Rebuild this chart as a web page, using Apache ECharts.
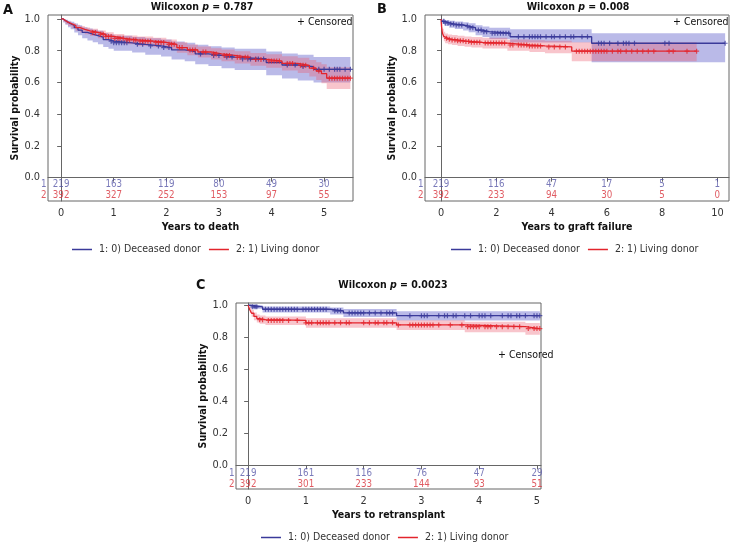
<!DOCTYPE html>
<html><head><meta charset="utf-8">
<script src="https://cdn.jsdelivr.net/npm/echarts@6/dist/echarts.min.js"></script>
<style>html,body{margin:0;padding:0;background:#fff}#c{width:732px;height:545px}</style>
</head><body><div id="c"></div>
<script>
// ---- pick a narrow installed font (reference uses a condensed face) ----
function fontAvailable(name){
  const c = document.createElement('canvas').getContext('2d');
  const s = 'Wilcoxon Deceased donor 0123456789';
  c.font = '40px monospace'; const w0 = c.measureText(s).width;
  c.font = "40px '"+name+"', monospace"; const w1 = c.measureText(s).width;
  c.font = '40px serif'; const w2 = c.measureText(s).width;
  c.font = "40px '"+name+"', serif"; const w3 = c.measureText(s).width;
  return w0 !== w1 || w2 !== w3;
}
const CANDIDATES = ['Liberation Sans Narrow','DejaVu Sans Condensed','Roboto Condensed','Open Sans Condensed','Noto Sans Condensed','Roboto'];
let PICK = 'Roboto';
for (const f of CANDIDATES){ if (fontAvailable(f)) { PICK = f; break; } }
const FONT = "'"+PICK+"', 'Liberation Sans', sans-serif";
const MCTX = document.createElement('canvas').getContext('2d');
function textW(str, size, bold){ MCTX.font = (bold?'bold ':'') + size + 'px ' + FONT; return MCTX.measureText(str).width; }
const K = Math.min(1.05, Math.max(0.84, 85 / textW('1: 0) Deceased donor', 12)));
const fs = v => Math.round(v * K * 10) / 10;

const BLUE = '#3a3a9a', RED = '#e3242c';
const BLUE_TXT = '#5858a8', RED_TXT = '#d8323b';
const BLUE_BAND = 'rgba(102,102,204,0.45)', RED_BAND = 'rgba(235,90,110,0.35)';
const NAME1 = '1: 0) Deceased donor', NAME2 = '2: 1) Living donor';

// ---------- Panel A: Years to death ----------
const A_blue_t  = [0,0.04,0.08,0.13,0.18,0.25,0.32,0.4,0.5,0.6,0.7,0.8,0.9,1.0,1.35,1.6,1.9,2.1,2.35,2.55,2.8,3.05,3.3,3.9,4.2,4.5,4.8,5.5];
const A_blue_s  = [1.0,0.99,0.98,0.97,0.96,0.945,0.93,0.915,0.905,0.895,0.885,0.87,0.86,0.85,0.84,0.83,0.82,0.805,0.795,0.78,0.77,0.76,0.748,0.725,0.71,0.70,0.683,0.683];
const A_blue_lo = [1.0,0.977,0.963,0.948,0.935,0.915,0.897,0.878,0.865,0.853,0.84,0.823,0.812,0.8,0.788,0.775,0.763,0.745,0.733,0.715,0.703,0.69,0.678,0.645,0.625,0.613,0.6,0.6];
const A_blue_hi = [1.0,1.0,0.995,0.988,0.982,0.972,0.96,0.948,0.94,0.932,0.925,0.912,0.903,0.895,0.887,0.878,0.87,0.858,0.85,0.837,0.828,0.82,0.812,0.795,0.783,0.775,0.76,0.76];
const A_blue_cens = [0.95,1.0,1.05,1.1,1.15,1.2,1.25,1.45,1.55,1.7,1.85,1.95,2.05,2.65,2.9,3.0,3.15,3.25,3.45,3.55,3.6,3.7,3.75,3.85,4.3,4.45,4.6,4.9,5.0,5.1,5.2,5.25,5.3,5.4,5.5];
const A_red_t  = [0,0.04,0.08,0.13,0.2,0.28,0.36,0.45,0.55,0.7,0.85,1.0,1.2,1.45,1.75,2.0,2.2,2.4,2.6,2.85,3.05,3.3,3.6,3.9,4.2,4.5,4.72,4.85,4.95,5.05,5.5];
const A_red_s  = [1.0,0.99,0.98,0.97,0.958,0.945,0.935,0.925,0.915,0.903,0.89,0.878,0.868,0.86,0.852,0.84,0.82,0.805,0.792,0.78,0.77,0.758,0.745,0.735,0.72,0.708,0.69,0.672,0.655,0.627,0.627];
const A_red_lo = [1.0,0.982,0.969,0.956,0.941,0.926,0.914,0.903,0.892,0.878,0.864,0.851,0.84,0.831,0.822,0.809,0.787,0.771,0.757,0.744,0.733,0.72,0.705,0.693,0.675,0.66,0.638,0.616,0.595,0.559,0.559];
const A_red_hi = [1.0,0.998,0.991,0.984,0.975,0.964,0.956,0.947,0.938,0.928,0.916,0.905,0.896,0.889,0.882,0.871,0.853,0.839,0.827,0.816,0.807,0.796,0.785,0.777,0.765,0.756,0.742,0.728,0.715,0.695,0.695];
const A_red_cens = [0.6,0.65,0.75,0.8,0.85,0.9,0.95,1.02,1.08,1.12,1.18,1.25,1.3,1.38,1.42,1.5,1.55,1.6,1.65,1.7,1.8,1.85,1.9,1.95,2.05,2.1,2.15,2.25,2.3,2.45,2.5,2.55,2.7,2.75,2.9,2.95,3.1,3.15,3.2,3.35,3.4,3.5,3.55,3.7,3.8,3.95,4.0,4.05,4.1,4.15,4.3,4.35,4.4,4.55,4.6,4.65,4.8,4.9,5.1,5.15,5.2,5.25,5.3,5.35,5.4,5.45,5.5];
const A_risk_t = [0,1,2,3,4,5];
const A_risk_blue = [219,163,119,80,49,30];
const A_risk_red  = [392,327,252,153,97,55];

// ---------- Panel B: Years to graft failure ----------
const B_blue_t  = [0,0.05,0.15,0.3,0.5,0.8,1.0,1.25,1.5,1.75,2.5,5.45,10.28];
const B_blue_s  = [1.0,0.985,0.975,0.968,0.962,0.955,0.945,0.93,0.92,0.91,0.888,0.847,0.847];
const B_blue_lo = [1.0,0.97,0.955,0.945,0.937,0.928,0.916,0.898,0.886,0.874,0.852,0.727,0.727];
const B_blue_hi = [1.0,0.998,0.992,0.988,0.984,0.98,0.973,0.961,0.953,0.945,0.935,0.91,0.91];
const B_blue_cens = [0.1,0.15,0.25,0.35,0.45,0.55,0.65,0.75,0.95,1.05,1.15,1.35,1.45,1.55,1.65,1.85,1.95,2.05,2.15,2.25,2.35,2.45,2.8,3.0,3.2,3.3,3.4,3.5,3.6,3.8,4.0,4.1,4.3,4.5,4.7,4.8,5.1,5.3,5.7,5.8,5.9,6.1,6.4,6.6,6.7,6.8,7.0,8.1,8.25,10.28];
const B_red_t  = [0,0.02,0.05,0.1,0.15,0.25,0.4,0.6,0.85,1.1,1.5,2.4,3.2,3.76,4.73,9.25];
const B_red_s  = [1.0,0.95,0.91,0.89,0.878,0.872,0.868,0.862,0.858,0.853,0.848,0.836,0.83,0.824,0.797,0.797];
const B_red_lo = [1.0,0.93,0.88,0.86,0.847,0.84,0.836,0.83,0.825,0.82,0.814,0.8,0.792,0.784,0.733,0.733];
const B_red_hi = [1.0,0.97,0.938,0.919,0.908,0.902,0.899,0.894,0.89,0.886,0.882,0.871,0.866,0.862,0.853,0.853];
const B_red_cens = [0.2,0.3,0.4,0.5,0.6,0.7,0.8,0.9,1.0,1.1,1.2,1.3,1.4,1.6,1.7,1.8,1.9,2.0,2.1,2.2,2.3,2.5,2.6,2.8,2.9,3.0,3.1,3.2,3.3,3.4,3.5,3.6,3.9,4.1,4.3,4.5,4.9,5.0,5.1,5.2,5.3,5.4,5.5,5.6,5.7,5.8,5.9,6.0,6.2,6.4,6.5,6.7,6.9,7.1,7.3,7.5,7.7,8.25,8.4,8.9,9.25];
const B_risk_t = [0,2,4,6,8,10];
const B_risk_blue = [219,116,47,17,5,1];
const B_risk_red  = [392,233,94,30,5,0];

// ---------- Panel C: Years to retransplant ----------
const C_blue_t  = [0,0.05,0.25,1.42,1.65,2.57,5.05];
const C_blue_s  = [1.0,0.99,0.975,0.965,0.952,0.935,0.935];
const C_blue_lo = [1.0,0.978,0.955,0.942,0.927,0.905,0.905];
const C_blue_hi = [1.0,1.0,0.992,0.986,0.977,0.962,0.962];
const C_blue_cens = [0.08,0.12,0.15,0.3,0.35,0.4,0.45,0.5,0.55,0.6,0.65,0.7,0.75,0.8,0.85,0.95,1.0,1.05,1.1,1.15,1.2,1.25,1.3,1.35,1.5,1.55,1.6,1.75,1.8,1.85,1.9,1.95,2.0,2.1,2.2,2.3,2.4,2.45,2.5,2.8,3.0,3.05,3.1,3.3,3.4,3.45,3.55,3.6,3.75,3.85,4.0,4.05,4.1,4.2,4.4,4.5,4.55,4.65,4.7,4.8,4.95,5.0,5.05];
const C_red_t  = [0,0.03,0.06,0.1,0.15,0.2,0.3,1.0,2.57,3.75,4.8,5.05];
const C_red_s  = [1.0,0.97,0.95,0.93,0.917,0.91,0.905,0.89,0.877,0.866,0.854,0.854];
const C_red_lo = [1.0,0.952,0.928,0.906,0.892,0.884,0.876,0.86,0.845,0.832,0.815,0.815];
const C_red_hi = [1.0,0.988,0.972,0.954,0.942,0.936,0.93,0.918,0.906,0.897,0.889,0.889];
const C_red_cens = [0.2,0.25,0.35,0.4,0.45,0.5,0.55,0.6,0.7,0.85,1.0,1.05,1.1,1.2,1.25,1.3,1.35,1.4,1.5,1.6,1.7,1.75,2.0,2.1,2.2,2.25,2.35,2.4,2.5,2.6,2.8,2.85,2.9,2.95,3.0,3.05,3.1,3.15,3.2,3.3,3.5,3.7,3.8,3.85,3.9,3.95,4.0,4.1,4.15,4.2,4.3,4.4,4.5,4.6,4.7,4.85,4.95,5.0,5.05];
const C_risk_t = [0,1,2,3,4,5];
const C_risk_blue = [219,161,116,76,47,29];
const C_risk_red  = [392,301,233,144,93,51];

const Y_TICKS = [0,0.2,0.4,0.6,0.8,1.0];
const A_X_TICKS = [0,1,2,3,4,5];
const B_X_TICKS = [0,2,4,6,8,10];
const C_X_TICKS = [0,1,2,3,4,5];

// ---------- helpers ----------
const PLUS = 'path://M0.38,0H0.62V0.38H1V0.62H0.62V1H0.38V0.62H0V0.38H0.38Z';
function stepAt(t, s, x){ let v = s[0]; for (let i=0;i<t.length;i++){ if (t[i] <= x + 1e-9) v = s[i]; } return v; }
function band(g, t, lo, hi, color){
  return {type:'custom', xAxisIndex:g, yAxisIndex:g, silent:true, z:1, animation:false,
    data: t.map((x,i)=>[x, lo[i], hi[i]]), encode:{x:0, y:[1,2]},
    renderItem:(params, api)=>{
      if (params.dataIndex !== 0) return null;
      const up=[], dn=[];
      for (let i=0;i<t.length;i++){
        const xn = i < t.length-1 ? t[i+1] : t[i];
        up.push(api.coord([t[i], hi[i]])); up.push(api.coord([xn, hi[i]]));
        dn.push(api.coord([t[i], lo[i]])); dn.push(api.coord([xn, lo[i]]));
      }
      return {type:'polygon', shape:{points: up.concat(dn.reverse())}, style:{fill:color}};
    }};
}
function curve(g, name, t, s, color){
  return {type:'line', name, xAxisIndex:g, yAxisIndex:g, step:'end', symbol:'none', silent:true, z:3, animation:false,
    data: t.map((x,i)=>[x, s[i]]), lineStyle:{color, width:1.3}, itemStyle:{color}};
}
function cens(g, t, s, c, color){
  return {type:'scatter', xAxisIndex:g, yAxisIndex:g, silent:true, z:4, animation:false,
    symbol: PLUS, symbolSize:[5,5], itemStyle:{color},
    data: c.map(x=>[x, stepAt(t, s, x)])};
}
function risk(g, t, vals, yv, color, rowLabel, xmin){
  const d = t.map((x,i)=>[x, yv, vals[i]]);
  return [{type:'scatter', xAxisIndex:g, yAxisIndex:g, silent:true, z:5, animation:false, clip:false,
    symbolSize:1, itemStyle:{color:'rgba(0,0,0,0)'}, data:d,
    label:{show:true, position:'inside', formatter:p=>String(p.value[2]), color, fontSize:fs(11.5), fontFamily:FONT}},
   {type:'scatter', xAxisIndex:g, yAxisIndex:g, silent:true, z:5, animation:false, clip:false,
    symbolSize:1, itemStyle:{color:'rgba(0,0,0,0)'}, data:[[xmin, yv]],
    label:{show:true, position:'left', distance:1, formatter:rowLabel, color, fontSize:fs(11.5), fontFamily:FONT}}];
}
function xAxis(g, min, max, ticks, name){
  return {type:'value', gridIndex:g, min, max, name, nameLocation:'middle', nameGap:21,
    nameTextStyle:{fontFamily:FONT, fontSize:fs(12.5), fontWeight:'bold', color:'#111'},
    axisLine:{show:true, lineStyle:{color:'#666'}}, splitLine:{show:false},
    axisTick:{show:true, customValues:ticks, length:4, lineStyle:{color:'#666'}},
    axisLabel:{customValues:ticks, margin:7, fontFamily:FONT, fontSize:fs(13), color:'#333'}};
}
function yAxis(g, min, max){
  return {type:'value', gridIndex:g, min, max, name:'Survival probability', nameLocation:'middle', nameGap:24,
    nameTextStyle:{fontFamily:FONT, fontSize:fs(12.5), fontWeight:'bold', color:'#111'},
    axisLine:{show:true, lineStyle:{color:'#666'}}, splitLine:{show:false},
    axisTick:{show:true, customValues:Y_TICKS, length:4, lineStyle:{color:'#666'}},
    axisLabel:{customValues:Y_TICKS, margin:8, fontFamily:FONT, fontSize:fs(13), color:'#333', formatter:v=>v.toFixed(1)}};
}
const LEG_SIZE = fs(12.5), LEG_ICON = 20, LEG_GAP = 8, LEG_TXT_GAP = 7;
function legend(center, top){
  const total = 2*(LEG_ICON + LEG_TXT_GAP) + textW(NAME1, LEG_SIZE) + textW(NAME2, LEG_SIZE) + LEG_GAP;
  return {left: Math.round(center - total/2), top, padding:0, width:320, data:[NAME1, NAME2], icon:'rect',
    itemWidth:LEG_ICON, itemHeight:1.5, itemGap:LEG_GAP,
    selectedMode:false, textStyle:{fontFamily:FONT, fontSize:LEG_SIZE, color:'#333', padding:[0,0,0,2]}};
}
function titleText(x, y, p){
  const st = {fontFamily:FONT, fontSize:fs(12.5), fontWeight:'bold', fill:'#111'};
  return {type:'text', x, y, silent:true, style:{text:'{b|Wilcoxon }{i|p}{b| = '+p+'}', align:'center', verticalAlign:'middle',
    rich:{b:st, i:Object.assign({}, st, {fontStyle:'italic'})}}};
}
function plain(x, y, text, size, bold, align){
  return {type:'text', x, y, silent:true, style:{text, align:align||'left', verticalAlign:'middle',
    font:(bold?'bold ':'')+fs(size)+'px '+FONT, fill:'#111'}};
}

const AX = [-0.25, 5.55], BX = [-0.58, 10.42], CX = [-0.21, 5.07];
const AY = [-0.147, 1.025], CY = [-0.148, 1.014];

const series = [].concat(
  band(0, A_blue_t, A_blue_lo, A_blue_hi, BLUE_BAND), band(0, A_red_t, A_red_lo, A_red_hi, RED_BAND),
  curve(0, NAME1, A_blue_t, A_blue_s, BLUE), curve(0, NAME2, A_red_t, A_red_s, RED),
  cens(0, A_blue_t, A_blue_s, A_blue_cens, BLUE), cens(0, A_red_t, A_red_s, A_red_cens, RED),
  risk(0, A_risk_t, A_risk_blue, -0.04, BLUE_TXT, '1', AX[0]), risk(0, A_risk_t, A_risk_red, -0.115, RED_TXT, '2', AX[0]),

  band(1, B_blue_t, B_blue_lo, B_blue_hi, BLUE_BAND), band(1, B_red_t, B_red_lo, B_red_hi, RED_BAND),
  curve(1, NAME1, B_blue_t, B_blue_s, BLUE), curve(1, NAME2, B_red_t, B_red_s, RED),
  cens(1, B_blue_t, B_blue_s, B_blue_cens, BLUE), cens(1, B_red_t, B_red_s, B_red_cens, RED),
  risk(1, B_risk_t, B_risk_blue, -0.04, BLUE_TXT, '1', BX[0]), risk(1, B_risk_t, B_risk_red, -0.115, RED_TXT, '2', BX[0]),

  band(2, C_blue_t, C_blue_lo, C_blue_hi, BLUE_BAND), band(2, C_red_t, C_red_lo, C_red_hi, RED_BAND),
  curve(2, NAME1, C_blue_t, C_blue_s, BLUE), curve(2, NAME2, C_red_t, C_red_s, RED),
  cens(2, C_blue_t, C_blue_s, C_blue_cens, BLUE), cens(2, C_red_t, C_red_s, C_red_cens, RED),
  risk(2, C_risk_t, C_risk_blue, -0.052, BLUE_TXT, '1', CX[0]), risk(2, C_risk_t, C_risk_red, -0.12, RED_TXT, '2', CX[0])
);

const chart = echarts.init(document.getElementById('c'), null, {renderer:'canvas'});
chart.setOption({
  animation:false, backgroundColor:'#fff',
  grid:[
    {left:48, top:15, width:305, height:186, show:true, borderColor:'#666', borderWidth:1},
    {left:425, top:15, width:304, height:186, show:true, borderColor:'#666', borderWidth:1},
    {left:236, top:303, width:305, height:186, show:true, borderColor:'#666', borderWidth:1}
  ],
  xAxis:[xAxis(0, AX[0], AX[1], A_X_TICKS, 'Years to death'), xAxis(1, BX[0], BX[1], B_X_TICKS, 'Years to graft failure'), xAxis(2, CX[0], CX[1], C_X_TICKS, 'Years to retransplant')],
  yAxis:[yAxis(0, AY[0], AY[1]), yAxis(1, AY[0], AY[1]), yAxis(2, CY[0], CY[1])],
  legend:[legend(196, 244), legend(575, 244), legend(385, 532)],
  graphic:[
    plain(3, 10, 'A', 17, true), plain(377, 9, 'B', 17, true), plain(196, 285, 'C', 17, true),
    titleText(202, 7, '0.787'), titleText(578, 7, '0.008'), titleText(393, 285, '0.0023'),
    plain(297, 22, '+ Censored', 12.5, false), plain(673, 22, '+ Censored', 12.5, false), plain(498, 355, '+ Censored', 12.5, false)
  ],
  series
});
</script></body></html>
